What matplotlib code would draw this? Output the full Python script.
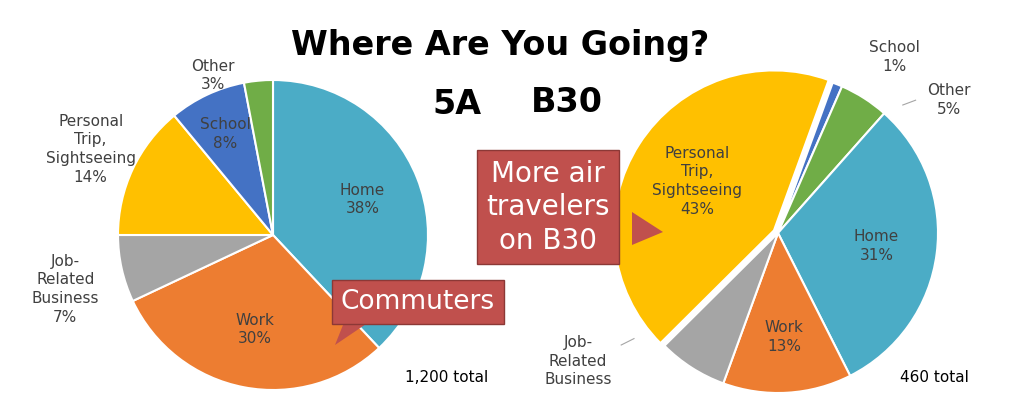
import matplotlib
matplotlib.use("Agg")
import matplotlib.pyplot as plt
from matplotlib.patches import Polygon
import numpy as np

# 5A
labels_5a = ["Home", "Work", "Job-\nRelated\nBusiness", "Personal\nTrip,\nSightseeing", "School", "Other"]
values_5a = [38, 30, 7, 14, 8, 3]
colors_5a = ["#4bacc6", "#ed7d31", "#a5a5a5", "#ffc000", "#4472c4", "#70ad47"]

# B30
labels_b30 = ["School", "Other", "Home", "Work", "Job-\nRelated\nBusiness", "Personal\nTrip,\nSightseeing"]
values_b30 = [1, 5, 31, 13, 7, 43]
colors_b30 = ["#4472c4", "#70ad47", "#4bacc6", "#ed7d31", "#a5a5a5", "#ffc000"]

W, H = 1024, 401
fig = plt.figure(figsize=(W / 100, H / 100), dpi=100)
fig.patch.set_facecolor("white")


def pie_axes(cx, cy, r):
    return fig.add_axes([(cx - r) / W, (H - cy - r) / H, 2 * r / W, 2 * r / H])


def draw_pie(ax, values, colors, labels, start, dists, explode, fixed=None, hidden_pct=()):
    fixed = fixed or {}
    wedges, _ = ax.pie(values, colors=colors, startangle=start, counterclock=False,
                       explode=explode, wedgeprops=dict(edgecolor="white", linewidth=1.5))
    ax.set_aspect("equal")
    ax.set_xlim(-1, 1)
    ax.set_ylim(-1, 1)
    ax.axis("off")
    for i, (w, lab, v, d) in enumerate(zip(wedges, labels, values, dists)):
        a = np.deg2rad((w.theta1 + w.theta2) / 2)
        x, y = fixed.get(i, (d * np.cos(a), d * np.sin(a)))
        txt = lab if i in hidden_pct else f"{lab}\n{v}%"
        ax.text(x, y, txt, ha="center", va="center",
                fontsize=11, color="#404040", linespacing=1.3, clip_on=False)
    return wedges


ax1 = pie_axes(273, 235, 155)
draw_pie(ax1, values_5a, colors_5a, labels_5a, 90,
         [0.62, 0.62, 1.45, 1.3, 0.72, 1.22], [0] * 6,
         fixed={2: (-1.34, -0.35), 5: (-0.39, 1.03)})

ax2 = pie_axes(778, 233, 160)
draw_pie(ax2, values_b30, colors_b30, labels_b30, 70,
         [1.3, 1.3, 0.62, 0.65, 1.35, 0.6], [0, 0, 0, 0, 0, 0.03],
         fixed={0: (0.73, 1.1), 1: (1.07, 0.83), 4: (-1.25, -0.8)}, hidden_pct=(4,))
ax2.plot([-0.9, -0.98], [-0.66, -0.7], color="#a5a5a5", lw=0.8, clip_on=False)
ax2.plot([0.78, 0.86], [0.8, 0.83], color="#a5a5a5", lw=0.8, clip_on=False)

fig.text(500 / W, 1 - 45 / H, "Where Are You Going?", ha="center", va="center",
         fontsize=24, fontweight="bold")
fig.text(457 / W, 1 - 105 / H, "5A", ha="center", va="center", fontsize=24, fontweight="bold")
fig.text(567 / W, 1 - 103 / H, "B30", ha="center", va="center", fontsize=24, fontweight="bold")
fig.text(405 / W, 1 - 377 / H, "1,200 total", ha="left", va="center", fontsize=11)
fig.text(900 / W, 1 - 377 / H, "460 total", ha="left", va="center", fontsize=11)

red = "#c0504d"
box = dict(boxstyle="square,pad=0.35", facecolor=red, edgecolor="#8c3836", linewidth=1)
fig.text(548 / W, 1 - 207 / H, "More air\ntravelers\non B30", ha="center", va="center",
         fontsize=20, color="white", bbox=box, linespacing=1.25)
fig.text(418 / W, 1 - 302 / H, "Commuters", ha="center", va="center",
         fontsize=19, color="white", bbox=box)
for pts in ([(632, 212), (663, 232), (632, 245)], [(345, 320), (335, 345), (372, 320)]):
    fig.patches.append(Polygon([(x / W, 1 - y / H) for x, y in pts], closed=True,
                               transform=fig.transFigure, facecolor=red, edgecolor="none"))

fig.savefig("out.png", dpi=100)
